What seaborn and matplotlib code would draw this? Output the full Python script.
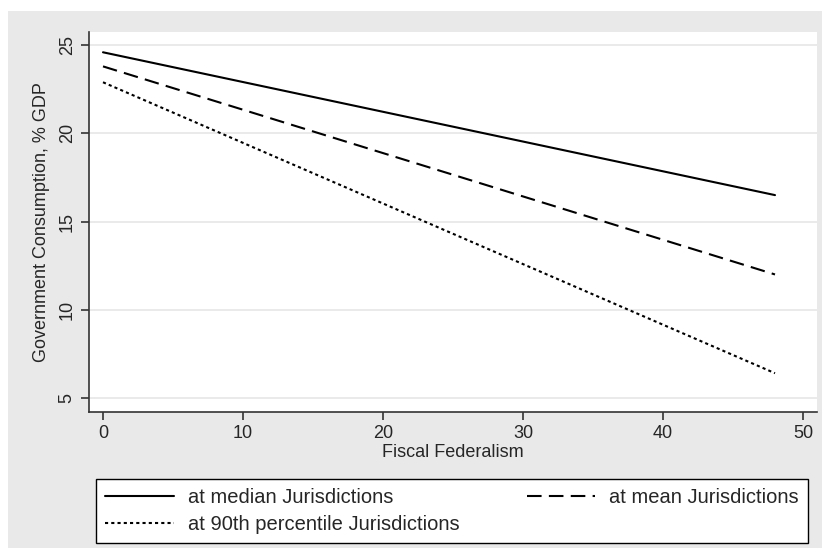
import numpy as np
import pandas as pd
import seaborn as sns
import matplotlib.pyplot as plt
from matplotlib.patches import Rectangle

# values
fiscal_federalism = [0, 48]
median_jur = [24.6, 16.5]
mean_jur = [23.8, 12.0]
p90_jur = [22.9, 6.4]
series_names = ["at median Jurisdictions", "at mean Jurisdictions",
                "at 90th percentile Jurisdictions"]
x_ticks = [0, 10, 20, 30, 40, 50]
y_ticks = [5, 10, 15, 20, 25]

df = pd.DataFrame({
    "x": fiscal_federalism * 3,
    "y": median_jur + mean_jur + p90_jur,
    "series": [s for s in series_names for _ in fiscal_federalism],
})

sns.set_style("white")
plt.rcParams["font.family"] = ["Liberation Sans Narrow", "Liberation Sans", "DejaVu Sans"]

fig = plt.figure(figsize=(8.3, 5.54), dpi=100)
fig.patch.set_facecolor("white")
# gray outer region like stata graph background
fig.patches.append(Rectangle((8 / 830, 1 - 548 / 554), 814 / 830, 537 / 554,
                             transform=fig.transFigure, facecolor="#e9e9e9",
                             edgecolor="none", zorder=-10))

ax = fig.add_axes([89 / 830, 1 - 412 / 554, 728 / 830, 380 / 554])
ax.set_facecolor("white")

dash_styles = {
    series_names[0]: None,
    series_names[1]: (7, 3.5),
    series_names[2]: (1.5, 1.5),
}
for name in series_names:
    sub = df[df["series"] == name]
    sns.lineplot(data=sub, x="x", y="y", color="black", linewidth=1.5,
                 ax=ax, label=name, legend=False)
    if dash_styles[name] is not None:
        ax.lines[-1].set_dashes(dash_styles[name])

ax.set_xlim(-1, 51)
ax.set_ylim(4.2, 25.75)
ax.set_xticks(x_ticks)
ax.set_yticks(y_ticks)
ax.yaxis.grid(True, color="#e6e6e6", linewidth=1.2)
ax.set_axisbelow(True)
for s in ["top", "right"]:
    ax.spines[s].set_visible(False)
for s in ["left", "bottom"]:
    ax.spines[s].set_color("#333333")
    ax.spines[s].set_linewidth(1.2)
ax.tick_params(axis="both", direction="out", length=6, width=1.2,
               color="#333333", labelsize=13, bottom=True, left=True)
for lab in ax.get_yticklabels():
    lab.set_rotation(90)
    lab.set_va("center")
ax.set_xlabel("Fiscal Federalism", fontsize=13, labelpad=1)
ax.set_ylabel("Government Consumption, % GDP", fontsize=13, labelpad=6)
if ax.get_legend() is not None:
    ax.get_legend().remove()

handles = ax.lines[:3]
order = [0, 2, 1]
leg = fig.legend([handles[i] for i in order], [series_names[i] for i in order],
                 ncol=2, loc="lower left",
                 bbox_to_anchor=(96 / 830, 1 - 543 / 554, 712 / 830, 66 / 554),
                 mode="expand", fontsize=14.5, handlelength=3.4,
                 handletextpad=0.7, borderpad=0.45,
                 frameon=True, fancybox=False, edgecolor="black",
                 framealpha=1, borderaxespad=0, columnspacing=6,
                 labelspacing=0.4)
leg.get_frame().set_linewidth(1.0)

fig.savefig("out.png", dpi=100, facecolor=fig.get_facecolor())
